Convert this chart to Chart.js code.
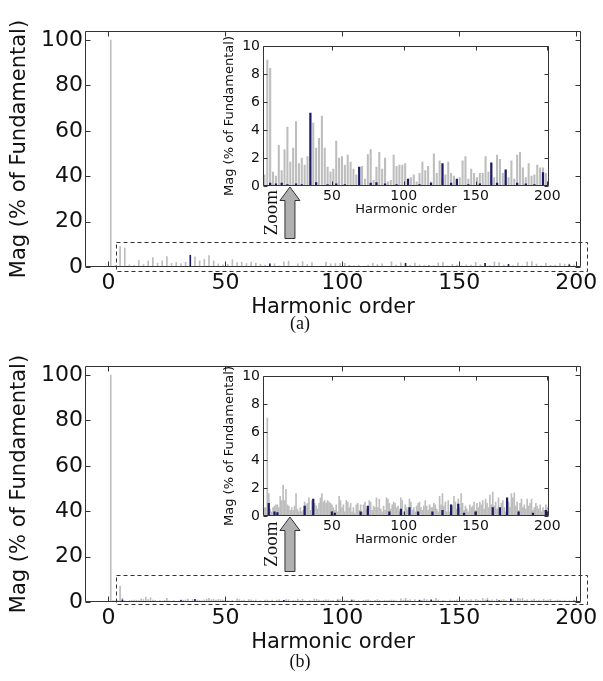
<!DOCTYPE html>
<html>
<head>
<meta charset="utf-8">
<script src="https://cdn.jsdelivr.net/npm/chart.js@4.4.1/dist/chart.umd.min.js"></script>
<style>
  body { margin: 0; background: #fff; width: 603px; height: 681px; position: relative; overflow: hidden; }
  canvas { position: absolute; }
  .cap { position: absolute; left: 270px; width: 60px; text-align: center; line-height: 20px;
         font-family: "Liberation Serif", "Times New Roman", serif; font-size: 18px; color: #111; }
</style>
</head>
<body>
<canvas id="mainA" width="603" height="335" style="left:0;top:0"></canvas>
<canvas id="insetA" width="345" height="195" style="left:218px;top:30px"></canvas>
<div class="cap" style="top:313px">(a)</div>
<canvas id="mainB" width="603" height="335" style="left:0;top:335px"></canvas>
<canvas id="insetB" width="345" height="195" style="left:218px;top:360px"></canvas>
<div class="cap" style="top:651px">(b)</div>

<script>
// ========== DATOS ==========
const fundamentalOrder = 1;
const fundamentalMag = 100;

// (a) armonicos impares
const ordersA = [
  3, 5, 7, 9, 11, 13, 15, 17, 19, 21, 23, 25, 27, 29, 31, 33, 35, 37, 39, 41,
  43, 45, 47, 49, 51, 53, 55, 57, 59, 61, 63, 65, 67, 69, 71, 73, 75, 77, 79, 81,
  83, 85, 87, 89, 91, 93, 95, 97, 99, 101, 103, 105, 107, 109, 111, 113, 115, 117, 119, 121,
  123, 125, 127, 129, 131, 133, 135, 137, 139, 141, 143, 145, 147, 149, 151, 153, 155, 157, 159, 161,
  163, 165, 167, 169, 171, 173, 175, 177, 179, 181, 183, 185, 187, 189, 191, 193, 195, 197, 199
];
const grayA = [
  0.8, 9.0, 8.4, 1.0, 0.7, 2.9, 1.1, 2.6, 4.2, 1.7, 2.7, 4.6, 1.6, 2.0, 1.5, 2.1, 0.3, 4.5, 2.7, 3.4,
  5.0, 2.7, 1.35, 1.0, 1.2, 3.2, 2.0, 2.1, 1.5, 2.2, 1.7, 1.2, 0.8, 0.3, 1.4, 0.5, 2.25, 2.6, 0.4, 1.35,
  2.4, 1.2, 2.0, 0.3, 0.4, 2.2, 1.4, 1.5, 1.5, 1.6, 0.3, 0.6, 0.8, 0.3, 0.9, 1.7, 1.1, 1.4, 0.3, 2.3,
  0.9, 1.8, 0.5, 0.8, 1.7, 0.9, 0.7, 0.3, 0.6, 1.8, 2.1, 0.5, 1.2, 0.9, 0.6, 0.9, 0.9, 2.1, 1.0, 0.4,
  0.6, 2.2, 1.9, 0.9, 0.3, 0.6, 1.8, 0.5, 2.2, 2.4, 1.3, 0.6, 1.6, 0.7, 0.8, 1.5, 1.3, 1.3, 0.9
];
const navyOrdersA = [
  7, 11, 15, 19, 25, 29, 35, 39, 47, 53, 59, 69, 77, 81, 87, 95,
  103, 111, 119, 127, 133, 137, 145, 153, 161, 165, 171, 179, 185, 191, 197
];
const navyA = [
  0.2, 0.15, 0.2, 0.1, 0.15, 0.1, 5.2, 0.25, 0.1, 0.15, 0.1, 1.35, 0.2, 0.25, 0.15, 0.1,
  0.5, 0.1, 0.2, 1.6, 0.2, 0.5, 0.1, 0.15, 1.65, 0.2, 1.15, 0.2, 0.15, 0.1, 0.95
];

// (b) todos los armonicos
const ordersB = [
  2, 3, 4, 5, 6, 7, 8, 9, 10, 11, 12, 13, 14, 15, 16, 17, 18, 19, 20, 21,
  22, 23, 24, 25, 26, 27, 28, 29, 30, 31, 32, 33, 34, 35, 36, 37, 38, 39, 40, 41,
  42, 43, 44, 45, 46, 47, 48, 49, 50, 51, 52, 53, 54, 55, 56, 57, 58, 59, 60, 61,
  62, 63, 64, 65, 66, 67, 68, 69, 70, 71, 72, 73, 74, 75, 76, 77, 78, 79, 80, 81,
  82, 83, 84, 85, 86, 87, 88, 89, 90, 91, 92, 93, 94, 95, 96, 97, 98, 99, 100, 101,
  102, 103, 104, 105, 106, 107, 108, 109, 110, 111, 112, 113, 114, 115, 116, 117, 118, 119, 120, 121,
  122, 123, 124, 125, 126, 127, 128, 129, 130, 131, 132, 133, 134, 135, 136, 137, 138, 139, 140, 141,
  142, 143, 144, 145, 146, 147, 148, 149, 150, 151, 152, 153, 154, 155, 156, 157, 158, 159, 160, 161,
  162, 163, 164, 165, 166, 167, 168, 169, 170, 171, 172, 173, 174, 175, 176, 177, 178, 179, 180, 181,
  182, 183, 184, 185, 186, 187, 188, 189, 190, 191, 192, 193, 194, 195, 196, 197, 198, 199, 200
];
const grayB = [
  0.6, 0.6, 0.6, 7.0, 1.6, 0.5, 0.3, 0.6, 0.7, 0.8, 0.8, 0.6, 1.4, 1.1, 2.2, 1.1, 1.9, 0.8, 0.7, 0.4,
  0.6, 0.4, 0.7, 1.6, 0.5, 0.3, 0.6, 0.3, 0.4, 1.0, 0.8, 0.9, 1.3, 0.4, 1.1, 0.6, 0.9, 0.7, 0.5, 0.9,
  1.3, 1.6, 1.0, 1.1, 0.9, 1.1, 1.0, 0.9, 0.8, 0.6, 0.4, 0.8, 0.3, 1.4, 1.1, 0.6, 0.8, 0.3, 1.1, 1.0,
  0.6, 0.9, 0.3, 0.6, 0.2, 0.8, 0.9, 0.4, 0.8, 0.3, 0.8, 1.0, 0.5, 0.6, 1.1, 1.0, 0.4, 0.7, 0.6, 1.3,
  0.6, 1.2, 0.5, 0.3, 0.7, 0.4, 1.3, 1.2, 0.9, 0.5, 0.8, 1.0, 0.9, 0.6, 0.7, 0.3, 1.3, 1.1, 0.3, 0.8,
  0.6, 0.4, 1.2, 1.0, 0.4, 0.6, 0.3, 0.7, 0.9, 1.0, 0.6, 0.4, 0.7, 1.1, 0.7, 0.4, 0.8, 0.6, 0.6, 0.9,
  0.8, 0.5, 0.3, 1.4, 0.8, 1.6, 0.7, 1.0, 0.3, 1.1, 0.3, 0.8, 0.7, 1.4, 1.0, 0.5, 1.2, 0.6, 1.6, 0.9,
  0.4, 0.7, 0.5, 0.3, 0.8, 0.6, 0.7, 1.0, 0.4, 0.9, 0.6, 1.0, 0.8, 1.1, 0.5, 1.2, 0.9, 0.6, 1.5, 0.8,
  1.7, 0.7, 1.0, 0.5, 1.3, 0.4, 0.9, 1.1, 0.6, 0.3, 0.8, 1.0, 0.6, 1.6, 1.3, 1.65, 0.7, 1.0, 0.4, 0.9,
  1.2, 0.6, 0.8, 0.5, 1.2, 0.7, 0.9, 1.2, 0.4, 0.6, 0.9, 0.7, 0.5, 0.8, 0.3, 0.6, 0.4, 0.8, 0.6
];
const navyOrdersB = [
  6, 10, 12, 31, 37, 50, 52, 70, 75, 90, 98, 104, 110,
  120, 127, 133, 138, 142, 150, 162, 167, 172, 180, 190, 199
];
const navyB = [
  0.9, 0.3, 0.25, 0.7, 1.2, 0.3, 0.2, 0.3, 0.7, 0.3, 0.5, 0.6, 0.3,
  0.3, 0.4, 0.8, 0.85, 0.2, 0.3, 0.6, 0.6, 1.3, 0.3, 0.2, 0.4
];

// Ejes
const mainXTicks = [0, 50, 100, 150, 200];
const mainYTicks = [0, 20, 40, 60, 80, 100];
const insetXTicks = [50, 100, 150, 200];
const insetYTicks = [0, 2, 4, 6, 8, 10];

// ========== ESTILOS ==========
const GRAY = '#bdbdbd';
const NAVY = '#1b1b66';
const INK = '#111';
const FRAME = '#333';
const SANS = '"DejaVu Sans", Verdana, sans-serif';

function puntos(orders, vals) {
  return orders.map((o, i) => ({ x: o, y: vals[i] }));
}

// Marco tipo MATLAB con marcas hacia dentro
function marco(tickLen) {
  return {
    id: 'marco',
    afterDraw(chart) {
      const { ctx, chartArea: a, scales: { x, y } } = chart;
      const L = Math.round(a.left) + 0.5, R = Math.round(a.right) - 0.5;
      const T = Math.round(a.top) + 0.5, B = Math.round(a.bottom) - 0.5;
      ctx.save();
      ctx.strokeStyle = FRAME;
      ctx.lineWidth = 1;
      ctx.beginPath();
      x.ticks.forEach(t => {
        const px = Math.round(x.getPixelForValue(t.value)) + 0.5;
        ctx.moveTo(px, B); ctx.lineTo(px, B - tickLen);
        ctx.moveTo(px, T); ctx.lineTo(px, T + tickLen);
      });
      y.ticks.forEach(t => {
        const py = Math.round(y.getPixelForValue(t.value)) + 0.5;
        ctx.moveTo(L, py); ctx.lineTo(L + tickLen, py);
        ctx.moveTo(R, py); ctx.lineTo(R - tickLen, py);
      });
      ctx.rect(L, T, R - L, B - T);
      ctx.stroke();
      ctx.restore();
    }
  };
}

// Recuadro punteado, flecha y texto "Zoom"
function marcaZoom(p) {
  return {
    id: 'marcaZoom',
    afterDraw(chart) {
      const { ctx, scales: { x, y } } = chart;
      const x0 = Math.round(x.getPixelForValue(p.box[0])) + 0.5;
      const x1 = Math.round(x.getPixelForValue(p.box[1])) + 0.5;
      const yb = Math.round(y.getPixelForValue(p.box[2])) + 0.5;
      const yt = Math.round(y.getPixelForValue(p.box[3])) + 0.5;
      ctx.save();
      ctx.strokeStyle = FRAME;
      ctx.lineWidth = 1;
      ctx.setLineDash([4, 3]);
      ctx.strokeRect(x0, yt, x1 - x0, yb - yt);
      ctx.setLineDash([]);

      const ax = x.getPixelForValue(p.arrowAt);
      const tip = p.insetBottom + 1;
      const base = tip + 13.5;
      const end = yt - 4;
      ctx.beginPath();
      ctx.moveTo(ax, tip);
      ctx.lineTo(ax + 10, base);
      ctx.lineTo(ax + 5, base);
      ctx.lineTo(ax + 5, end);
      ctx.lineTo(ax - 5, end);
      ctx.lineTo(ax - 5, base);
      ctx.lineTo(ax - 10, base);
      ctx.closePath();
      ctx.fillStyle = '#b0b0b0';
      ctx.fill();
      ctx.strokeStyle = '#333';
      ctx.stroke();

      ctx.translate(ax - 17.5, (tip + end) / 2);
      ctx.rotate(-Math.PI / 2);
      ctx.fillStyle = INK;
      ctx.font = '19px "Liberation Serif", "Times New Roman", serif';
      ctx.textAlign = 'center';
      ctx.textBaseline = 'middle';
      ctx.fillText('Zoom', 0, 0);
      ctx.restore();
    }
  };
}

function fijarTicks(valores) {
  return scale => { scale.ticks = valores.map(v => ({ value: v })); };
}

// ========== GRAFICA PRINCIPAL ==========
function crearPrincipal(id, orders, gray, navyOrders, navy, panel) {
  return new Chart(document.getElementById(id), {
    type: 'bar',
    data: {
      datasets: [
        { data: puntos(navyOrders, navy), backgroundColor: NAVY, barThickness: 1 },
        { data: puntos(orders, gray), backgroundColor: GRAY, barThickness: 1 },
        { data: [{ x: fundamentalOrder, y: fundamentalMag }], backgroundColor: GRAY, barThickness: 1 }
      ]
    },
    options: {
      responsive: false,
      animation: false,
      events: [],
      datasets: { bar: { grouped: false, borderWidth: 0 } },
      layout: { padding: { top: 31, right: 22, bottom: 12, left: 0 } },
      plugins: { legend: { display: false }, tooltip: { enabled: false } },
      scales: {
        x: {
          type: 'linear', min: -10, max: 202, offset: false,
          afterBuildTicks: fijarTicks(mainXTicks),
          afterFit: s => { s.height = 56; },
          grid: { display: false, drawTicks: false },
          border: { display: false },
          ticks: { color: INK, padding: 3, font: { family: SANS, size: 22 } },
          title: { display: true, text: 'Harmonic order', color: INK,
                   padding: { top: 0, bottom: 2.4 }, font: { family: SANS, size: 21 } }
        },
        y: {
          min: 0, max: 104,
          afterBuildTicks: fijarTicks(mainYTicks),
          afterFit: s => { s.width = 85; },
          grid: { display: false, drawTicks: false },
          border: { display: false },
          ticks: { color: INK, padding: 2, font: { family: SANS, size: 22 } },
          title: { display: true, text: 'Mag (% of Fundamental)', color: INK,
                   padding: { top: 7.4, bottom: 0 }, font: { family: SANS, size: 21 } }
        }
      }
    },
    plugins: [marco(5), marcaZoom(panel)]
  });
}

// ========== GRAFICA AMPLIADA ==========
function crearAmpliada(id, orders, gray, navyOrders, navy, grosor) {
  return new Chart(document.getElementById(id), {
    type: 'bar',
    data: {
      datasets: [
        { data: puntos(navyOrders, navy), backgroundColor: NAVY, barThickness: 1.6 },
        { data: puntos(orders, gray), backgroundColor: GRAY, barThickness: grosor }
      ]
    },
    options: {
      responsive: false,
      animation: false,
      events: [],
      datasets: { bar: { grouped: false, borderWidth: 0 } },
      layout: { padding: { top: 16, right: 6, bottom: 5, left: 0 } },
      plugins: { legend: { display: false }, tooltip: { enabled: false } },
      scales: {
        x: {
          type: 'linear', min: 2, max: 201, offset: false,
          afterBuildTicks: fijarTicks(insetXTicks),
          afterFit: s => { s.height = 34; },
          grid: { display: false, drawTicks: false },
          border: { display: false },
          ticks: { color: INK, padding: 2.3, font: { family: SANS, size: 14 } },
          title: { display: true, text: 'Harmonic order', color: INK,
                   padding: { top: 0, bottom: 2.2 }, font: { family: SANS, size: 13 } }
        },
        y: {
          min: 0, max: 10,
          afterBuildTicks: fijarTicks(insetYTicks),
          afterFit: s => { s.width = 45; },
          grid: { display: false, drawTicks: false },
          border: { display: false },
          ticks: { color: INK, padding: 3, font: { family: SANS, size: 14 } },
          title: { display: true, text: 'Mag (% of Fundamental)', color: INK,
                   padding: { top: 4.2, bottom: 0 }, font: { family: SANS, size: 13 } }
        }
      }
    },
    plugins: [marco(4)]
  });
}

crearPrincipal('mainA', ordersA, grayA, navyOrdersA, navyA,
  { box: [3.2, 204.7, -1.8, 10.9], arrowAt: 77.6, insetBottom: 186 });
crearAmpliada('insetA', ordersA, grayA, navyOrdersA, navyA, 1.4);

crearPrincipal('mainB', ordersB, grayB, navyOrdersB, navyB,
  { box: [3.2, 204.7, -1.0, 11.9], arrowAt: 77.6, insetBottom: 181 });
crearAmpliada('insetB', ordersB, grayB, navyOrdersB, navyB, 1);
</script>
</body>
</html>
